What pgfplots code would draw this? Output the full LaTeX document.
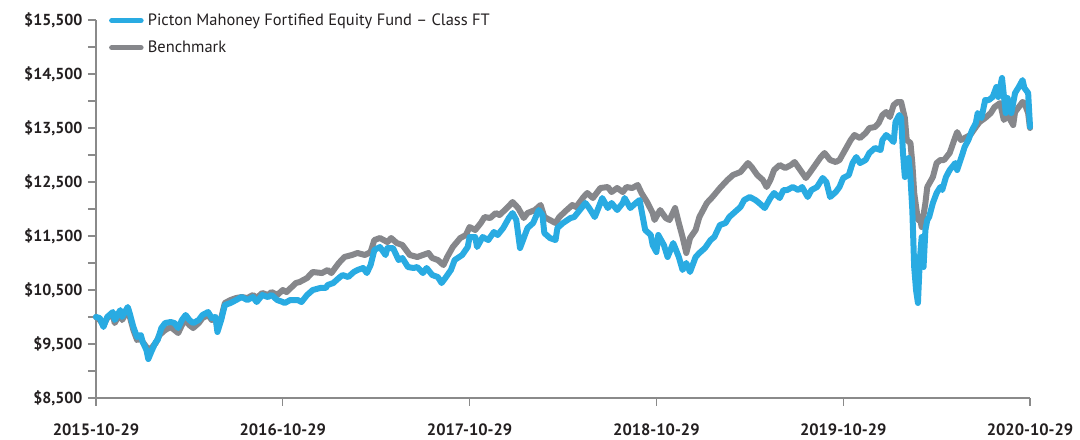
\documentclass[border=0pt]{standalone}
\usepackage{fontspec}
\setmainfont{PT Sans}
\usepackage{pgfplots}
\pgfplotsset{compat=1.18}
\definecolor{fundblue}{HTML}{29ABE2}
\definecolor{benchgrey}{HTML}{86878B}
\definecolor{axgrey}{HTML}{8A8A8A}
\definecolor{txt}{HTML}{231F20}
\begin{document}
\begin{tikzpicture}[x=1bp,y=1bp]
\path[use as bounding box] (-96,-42) rectangle (984,398);
\begin{axis}[
  scale only axis, width=934bp, height=378bp,
  xmin=0, xmax=5, ymin=8500, ymax=15500,
  scaled y ticks=false, scaled x ticks=false,
  axis x line*=bottom, axis y line*=left,
  axis line style={axgrey, line width=1.5bp},
  xtick={0,1,2,3,4,5},
  xticklabels={2015-10-29,2016-10-29,2017-10-29,2018-10-29,2019-10-29,2020-10-29},
  ytick={8500,9500,10500,11500,12500,13500,14500,15500},
  yticklabels={{\$8,500},{\$9,500},{\$10,500},{\$11,500},{\$12,500},{\$13,500},{\$14,500},{\$15,500}},
  minor ytick={9000,10000,11000,12000,13000,14000,15000},
  tick align=outside, major tick length=8bp, minor tick length=8bp,
  every tick/.style={axgrey, line width=1.2bp},
  ticklabel style={font=\bfseries\fontsize{16}{18}\selectfont, text=txt},
  xticklabel style={yshift=-14bp, font=\bfseries\fontsize{16.5}{18}\selectfont},
  yticklabel style={xshift=-2bp},
  /pgf/number format/assume math mode=true,
  clip=false,
  reverse legend,
  legend cell align=left,
  legend style={at={(axis description cs:0.005,1.027)}, anchor=north west, draw=none, fill=none,
    font=\fontsize{16.5}{19}\selectfont, text=txt, row sep=10bp},
  legend image code/.code={\path (0bp,0bp) (36bp,0bp); \draw[#1, line width=5.5bp, overlay] (5bp,0bp) -- (34bp,0bp);},
]
\addplot[benchgrey, line width=6bp, line join=round, line cap=round] coordinates {
(0.00,10000)(0.02,9944)(0.04,9851)(0.06,9981)(0.09,10055)(0.10,9888)(0.13,10074)(0.14,9944)(0.17,10129)(0.18,10018)
(0.20,9759)(0.22,9574)(0.24,9611)(0.25,9537)(0.27,9444)(0.29,9388)(0.31,9481)(0.32,9518)(0.34,9666)(0.37,9759)
(0.40,9814)(0.42,9759)(0.44,9703)(0.46,9851)(0.48,9944)(0.50,9851)(0.52,9796)(0.55,9888)(0.57,9981)(0.60,10037)
(0.62,9944)(0.64,9981)(0.65,9796)(0.67,9981)(0.69,10259)(0.72,10314)(0.75,10351)(0.78,10370)(0.81,10351)(0.84,10407)
(0.86,10351)(0.89,10444)(0.92,10407)(0.94,10462)(0.97,10407)(1.00,10500)(1.02,10462)(1.07,10629)(1.09,10648)(1.13,10722)
(1.16,10833)(1.21,10814)(1.24,10870)(1.26,10814)(1.30,11000)(1.33,11111)(1.37,11148)(1.40,11185)(1.44,11148)(1.47,11203)
(1.49,11425)(1.52,11462)(1.56,11388)(1.58,11462)(1.61,11370)(1.64,11333)(1.68,11148)(1.72,11111)(1.75,11148)(1.78,11185)
(1.80,11092)(1.83,11055)(1.86,10962)(1.88,11111)(1.91,11296)(1.95,11462)(1.98,11518)(2.00,11666)(2.03,11611)(2.06,11740)
(2.08,11851)(2.11,11833)(2.14,11925)(2.16,11888)(2.20,12018)(2.23,12129)(2.26,12018)(2.29,11833)(2.31,11925)(2.35,11981)
(2.38,12074)(2.40,11851)(2.43,11796)(2.46,11740)(2.48,11851)(2.52,11981)(2.55,12074)(2.57,12036)(2.61,12222)(2.63,12296)
(2.66,12203)(2.70,12388)(2.74,12407)(2.76,12314)(2.79,12388)(2.82,12314)(2.84,12407)(2.87,12388)(2.90,12444)(2.92,12296)
(2.95,12129)(2.98,11925)(2.99,11796)(3.02,11981)(3.05,11833)(3.07,11796)(3.10,12018)(3.12,11740)(3.14,11481)(3.16,11185)
(3.18,11462)(3.21,11611)(3.23,11851)(3.27,12111)(3.30,12222)(3.34,12388)(3.38,12536)(3.41,12629)(3.45,12685)(3.49,12851)
(3.51,12777)(3.54,12629)(3.57,12536)(3.59,12407)(3.61,12536)(3.63,12722)(3.66,12814)(3.69,12759)(3.72,12814)(3.74,12870)
(3.77,12722)(3.80,12574)(3.82,12666)(3.85,12814)(3.88,12962)(3.90,13037)(3.93,12907)(3.96,12870)(3.98,12907)(4.01,13092)
(4.04,13277)(4.06,13370)(4.09,13314)(4.12,13407)(4.14,13499)(4.17,13518)(4.19,13592)(4.21,13740)(4.23,13796)(4.25,13703)
(4.27,13925)(4.29,13981)(4.31,13981)(4.33,13685)(4.34,13277)(4.36,13222)(4.37,12851)(4.38,12296)(4.40,11796)(4.41,11851)
(4.42,11666)(4.44,12111)(4.45,12407)(4.48,12592)(4.50,12851)(4.52,12907)(4.54,12907)(4.57,13037)(4.60,13333)(4.61,13425)
(4.63,13277)(4.65,13314)(4.68,13370)(4.71,13518)(4.73,13611)(4.76,13685)(4.79,13777)(4.81,13888)(4.84,13962)(4.86,13648)
(4.88,13740)(4.91,13555)(4.92,13796)(4.94,13888)(4.96,13981)(4.97,13962)(4.99,13777)(5.00,13500)
};
\addlegendentry{Benchmark}
\addplot[fundblue, line width=6bp, line join=round, line cap=round] coordinates {
(0.00,10000)(0.02,9981)(0.04,9815)(0.06,10000)(0.09,10092)(0.10,9944)(0.13,10129)(0.14,10000)(0.17,10185)(0.18,10074)
(0.20,9815)(0.22,9629)(0.24,9666)(0.25,9537)(0.27,9388)(0.28,9222)(0.30,9388)(0.32,9537)(0.33,9574)(0.35,9796)
(0.37,9888)(0.40,9907)(0.42,9888)(0.44,9796)(0.46,9944)(0.48,10037)(0.50,9944)(0.52,9888)(0.55,9944)(0.57,10037)
(0.60,10092)(0.62,9981)(0.64,10000)(0.65,9722)(0.67,9944)(0.69,10222)(0.72,10259)(0.75,10314)(0.78,10370)(0.81,10314)
(0.84,10370)(0.86,10277)(0.89,10407)(0.92,10370)(0.94,10407)(0.97,10314)(1.00,10277)(1.01,10259)(1.04,10314)(1.08,10314)
(1.10,10277)(1.13,10407)(1.16,10499)(1.20,10537)(1.23,10537)(1.24,10592)(1.27,10629)(1.30,10722)(1.32,10777)(1.35,10740)
(1.38,10833)(1.40,10870)(1.43,10907)(1.45,10814)(1.47,10962)(1.49,11240)(1.52,11296)(1.55,11147)(1.56,11277)(1.59,11277)
(1.62,11055)(1.64,11092)(1.67,10925)(1.70,10907)(1.72,10925)(1.75,10814)(1.77,10907)(1.80,10777)(1.83,10740)(1.85,10629)
(1.87,10722)(1.90,10870)(1.92,11055)(1.96,11147)(1.99,11296)(2.00,11481)(2.03,11481)(2.04,11296)(2.07,11481)(2.10,11425)
(2.13,11574)(2.15,11518)(2.18,11648)(2.21,11833)(2.23,11925)(2.25,11796)(2.27,11277)(2.29,11462)(2.31,11648)(2.34,11740)
(2.37,11981)(2.39,11888)(2.40,11555)(2.43,11462)(2.46,11425)(2.47,11648)(2.50,11740)(2.54,11833)(2.56,11851)(2.59,11981)
(2.62,12111)(2.64,12018)(2.67,11851)(2.70,12111)(2.71,12203)(2.74,12018)(2.76,12111)(2.79,11981)(2.82,12111)(2.83,12203)
(2.86,12018)(2.89,12111)(2.91,12166)(2.92,11981)(2.94,11611)(2.97,11518)(2.98,11333)(3.00,11203)(3.01,11518)(3.04,11333)
(3.06,11111)(3.09,11370)(3.12,11111)(3.14,10870)(3.16,11000)(3.18,10833)(3.21,11111)(3.23,11185)(3.26,11277)(3.29,11425)
(3.31,11481)(3.34,11703)(3.37,11740)(3.39,11851)(3.42,11944)(3.45,12036)(3.47,12166)(3.50,12222)(3.53,12166)(3.55,12111)
(3.58,12018)(3.61,12203)(3.63,12296)(3.66,12203)(3.68,12351)(3.70,12351)(3.73,12407)(3.76,12351)(3.78,12407)(3.81,12222)
(3.83,12351)(3.86,12407)(3.89,12574)(3.91,12499)(3.93,12222)(3.96,12314)(3.98,12407)(4.00,12574)(4.03,12629)(4.05,12851)
(4.07,12962)(4.09,12851)(4.12,12907)(4.14,13037)(4.17,13129)(4.20,13092)(4.21,13277)(4.23,13370)(4.25,13314)(4.27,13240)
(4.28,13611)(4.30,13740)(4.31,13685)(4.32,13037)(4.33,12592)(4.35,12944)(4.36,12592)(4.37,11981)(4.38,10925)(4.39,10499)
(4.40,10259)(4.41,11055)(4.42,11481)(4.43,10925)(4.44,11611)(4.45,11796)(4.46,11851)(4.48,12111)(4.50,12296)(4.52,12407)
(4.53,12351)(4.55,12592)(4.57,12722)(4.60,12851)(4.61,12722)(4.64,13037)(4.65,13148)(4.67,13277)(4.69,13462)(4.71,13592)
(4.72,13777)(4.74,13685)(4.76,14018)(4.78,14018)(4.80,14074)(4.82,14259)(4.83,14074)(4.85,14426)(4.87,13777)(4.88,14055)
(4.90,13777)(4.92,14148)(4.94,14259)(4.96,14388)(4.97,14240)(4.99,14148)(5.00,13520)
};
\addlegendentry{Picton Mahoney Fortified Equity Fund -- Class FT}
\end{axis}
\end{tikzpicture}
\end{document}
